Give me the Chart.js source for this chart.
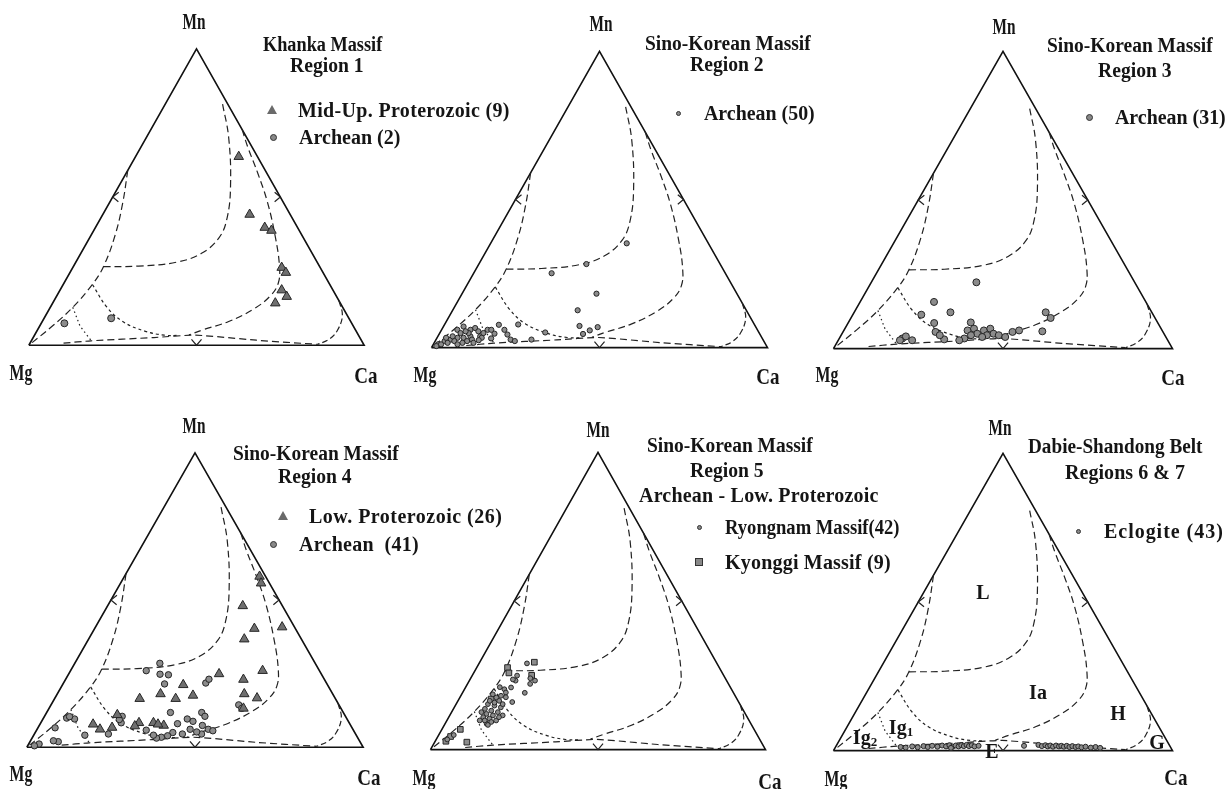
<!DOCTYPE html>
<html>
<head>
<meta charset="utf-8">
<script src="https://cdn.jsdelivr.net/npm/chart.js@4/dist/chart.umd.min.js"></script>
<style>
  html, body { margin: 0; padding: 0; background: #fff; }
  #page { position: relative; width: 1225px; height: 789px; overflow: hidden; background: #fff; }
  canvas { position: absolute; }
  .t { position: absolute; font-family: 'Liberation Serif', 'DejaVu Serif', serif; font-size: 20px;
       font-weight: bold; line-height: 1; white-space: pre; color: #151515; z-index: 2; }
  .t.v { font-size: 24px; }
  .t sub { font-size: 13px; vertical-align: -2px; }
  .mk { position: absolute; box-sizing: border-box; z-index: 2; }
</style>
</head>
<body>
<div id="page"></div>
<script>
// ternary points are [Ca %, Mn %]; Mg is the rest

// field boundaries (same on every diagram)
const bndLeft  = [[0, 59], [4, 48], [7.2, 37], [9, 26.5], [8.7, 20.5], [6.7, 12.8], [3.7, 6.3], [0, 0]];
const bndL     = [[9, 26.5], [19.4, 26.7], [30, 28], [36, 31], [38.6, 36.3], [37.7, 42.8], [33.3, 53.7], [24.6, 70], [17, 81.5]];
const bndRight = [[27.2, 72.8], [31.9, 66.8], [39.2, 58.1], [47, 48.3], [55.4, 36.3], [61.5, 26.5], [63.9, 21],
                  [63.7, 16.7], [61, 12.3], [55.6, 8], [49.3, 5.2], [46, 3.5]];
const bndIg1   = [[8.7, 20.5], [16.8, 12.9], [24, 8], [32.4, 4.7], [38.7, 3.4], [43, 3.3]];
const bndIg2   = [[6.7, 12.8], [12, 6.5], [18, 1.4]];
const bndBase  = [[10, 0.7], [17.8, 1.5], [36, 2.6], [48, 3.4], [67, 1.7], [86, 0.3]];
const bndG     = [[85, 15], [88.5, 10], [89.5, 5], [88.5, 2], [86, 0.3]];
const edgeMarks = [[[1, 51.6], [0, 50], [2.5, 48.4]], [[47.5, 51.6], [50, 50], [49.1, 48.4]], [[47.5, 2], [50, 0], [50.5, 2]]];

// samples
const r1MidUpProt = [[30.8, 63.6], [43.8, 44.1], [50.5, 39.7], [53, 38.7], [62.3, 26.2], [64.4, 24.5], [66.1, 18.6], [68.7, 16.4], [66.4, 14.2]];
const r1Archean = [[6.9, 7.4], [20, 9.1]];

const r2Archean = [[40.5, 35.2], [32, 28.2], [23.2, 25.1], [40, 18.2], [37.2, 12.6], [40.4, 7.3], [44.2, 5.8], [46, 6.9],
  [42.8, 4.6], [31.3, 5.1], [28.4, 2.7], [21.9, 7.8], [16.2, 7.7], [16.4, 4.7], [16.2, 3.1], [13.7, 6], [18.7, 6],
  [20.4, 4.4], [22.2, 2.7], [23.7, 2.2], [4.7, 6], [6, 7.1], [8.6, 6], [9.7, 6.6], [12.6, 3.8], [4.4, 2.7], [2.8, 2.2],
  [1.4, 1.1], [7.9, 3.3], [9.7, 3.8], [6.1, 3.3], [10.7, 2.7], [13, 4.9], [11.2, 5.5], [6.2, 4.9], [4, 1.6], [2.3, 1.1],
  [5.7, 2.2], [9.5, 2.2], [11.7, 1.6], [4.4, 3.8], [8.6, 4.9], [13.3, 3.3], [8.4, 1.6], [1.2, 0.5], [12.8, 2.5],
  [7.2, 1.1], [14.8, 6], [2.7, 3.3], [7.4, 5.5]];

const r3Archean = [[31, 22.3], [21.8, 15.7], [28.4, 12.2], [20.2, 11.4], [25.4, 8.6], [27.3, 5.6], [31.1, 3.1], [29.1, 4.5],
  [18.6, 3.4], [19.3, 4.1], [21.8, 2.8], [18.2, 2.8], [36.1, 8.8], [36.5, 6.1], [38.1, 6.7], [39.9, 5], [38.3, 4.5],
  [36.9, 3.4], [41.3, 6.1], [42.9, 6.7], [44.7, 5], [46.5, 4.5], [43, 4.5], [41.9, 3.9], [50, 5.6], [51.7, 6.1],
  [58.7, 5.8], [56.5, 12.2], [58.9, 10.3], [35.7, 2.8], [48.7, 3.9]];

const r4LowProt = [[40.2, 58], [41.8, 55.7], [40.2, 48], [47.5, 40.3], [55.5, 40.8], [46.3, 36.7], [44.7, 24.9], [57.1, 26],
  [52.9, 23], [35.9, 21.2], [30.7, 18.1], [36, 16.5], [40.6, 17.6], [25.3, 16.5], [55.6, 18.1], [60.1, 16.7], [57.8, 13.2],
  [21.4, 11], [15.8, 7.8], [18.7, 6.1], [22, 6.7], [29.2, 8.3], [33.5, 8.3], [37, 7.4], [28.5, 7.2], [35.1, 7.8]];
const r4Archean = [[25.3, 28.5], [22.5, 26], [27.2, 24.8], [29.8, 24.6], [30.2, 21.5], [42.3, 21.8], [42.6, 23.1], [55.8, 14.4],
  [57.3, 13.2], [36.8, 11.8], [46.1, 11.8], [47.7, 10.5], [42.9, 9.6], [45, 8.8], [40.8, 8], [48.5, 7.4], [50.9, 6.1],
  [49.7, 4.5], [45.5, 6.1], [44, 4.5], [40.9, 5], [39.9, 3.9], [38.3, 3.4], [37, 3.1], [32.6, 5.8], [22, 4.5], [15.2, 4.1],
  [5.1, 6.6], [8.4, 1.9], [6.8, 2.2], [6.9, 9.9], [9.4, 9.6], [7.5, 10.4], [3.1, 1.1], [2, 0.5], [23.1, 10.5], [23.9, 8.3],
  [22.8, 9.4], [52.5, 5.6], [47.9, 5.2], [35.6, 4.1]];

const r5Ryongnam = [[14.3, 29], [13.4, 24.9], [13.8, 23.2], [19.6, 23.2], [18.7, 22.1], [18.6, 19.1], [16.4, 16], [10.2, 21],
  [11.9, 20.3], [12.9, 19.2], [9.3, 18.6], [10.9, 17.5], [12.3, 16.4], [9.5, 15.3], [11.7, 14.8], [13.9, 14.2], [9.4, 13.7],
  [11.6, 13.1], [13.8, 12.6], [10.7, 12], [12.9, 11.5], [15.8, 11.5], [10.3, 10.9], [12.4, 10.4], [14.7, 9.8], [12.4, 8.7],
  [11.3, 9.8], [13, 8.3], [11.2, 15.8], [9.5, 16.4], [13.9, 15.3], [15, 10.9], [13.5, 9.3], [8.9, 12.6], [12, 18.1],
  [17.8, 24], [12.8, 23.6], [4.5, 4.9], [3.3, 3.4], [9.8, 9.8], [13.7, 17.6], [13.6, 20.9]];
const r5Kyonggi = [[16.3, 29.4], [9.2, 27.6], [10.5, 25.8], [17.7, 25], [9.6, 17], [5.5, 6.8], [3.8, 4.4], [3.2, 2.8], [9.6, 2.5]];

const r6Eclogite = [[19.2, 1.2], [20.8, 1], [22.5, 1.4], [24.3, 1.1], [25.8, 1.5], [27.2, 1.2], [28.3, 1.6], [30, 1.3],
  [31.2, 1.7], [32.5, 1.4], [33.3, 1.8], [34.5, 1.3], [35.2, 1.7], [36.2, 1.4], [36.8, 1.8], [37.7, 1.5], [38.3, 1.9],
  [39.2, 1.5], [39.9, 1.8], [40.9, 1.4], [42, 1.6], [34.2, 0.9], [55.4, 1.6], [59.5, 1.9], [60.7, 1.5], [61.6, 1.8],
  [62.5, 1.4], [63.1, 1.7], [64.1, 1.3], [64.8, 1.7], [65.8, 1.4], [66.4, 1.6], [67.3, 1.3], [68, 1.6], [69, 1.2],
  [69.7, 1.5], [70.8, 1.2], [71.5, 1.4], [72.6, 1.1], [73.7, 1.3], [75.4, 1], [76.7, 1.2], [78.2, 0.9]];

const vertexNames = ['Mn', 'Mg', 'Ca'];
const titles = [
  ['Khanka Massif', 'Region 1'],
  ['Sino-Korean Massif', 'Region 2'],
  ['Sino-Korean Massif', 'Region 3'],
  ['Sino-Korean Massif', 'Region 4'],
  ['Sino-Korean Massif', 'Region 5', 'Archean - Low. Proterozoic'],
  ['Dabie-Shandong Belt', 'Regions 6 & 7']
];
const fieldNames = ['L', 'Ia', 'H', 'G', 'Ig<sub>2</sub>', 'Ig<sub>1</sub>', 'E'];

// layout (page pixels)
const panelBox = [
  {left: 23, base: 351, w: 347, h: 308},
  {left: 427, base: 352, w: 345, h: 305},
  {left: 829, base: 353, w: 348, h: 306},
  {left: 21, base: 753, w: 348, h: 306},
  {left: 426, base: 754, w: 344, h: 306},
  {left: 829, base: 755, w: 348, h: 306}
];
const vertexPos = [
  [[194, 21], [21, 372], [366, 375]],
  [[601, 23], [425, 374], [768, 376]],
  [[1004, 26], [827, 374], [1173, 377]],
  [[194, 425], [21, 773], [369, 777]],
  [[598, 429], [424, 777], [770, 781]],
  [[1000, 427], [836, 778], [1176, 777]]
];
const titlePos = [
  [[263, 44], [290, 65]],
  [[645, 43], [690, 64]],
  [[1047, 45], [1098, 70]],
  [[233, 453], [278, 476]],
  [[647, 445], [690, 470], [639, 495]],
  [[1028, 446], [1065, 472]]
];
const fieldPos = [[983, 592], [1038, 692], [1118, 713], [1157, 742], [865, 737], [901, 727], [992, 751]];

// series shown on each diagram, with their legend entries
const panelSeries = [
  [{name: 'Mid-Up. Proterozoic (9)', data: r1MidUpProt, style: 'triangle', r: 5.5, at: [272, 110]},
   {name: 'Archean (2)', data: r1Archean, style: 'circle', r: 3.5, at: [273, 137]}],
  [{name: 'Archean (50)', data: r2Archean, style: 'circle', r: 2.6, at: [678, 113]}],
  [{name: 'Archean (31)', data: r3Archean, style: 'circle', r: 3.5, at: [1089, 117]}],
  [{name: 'Low. Proterozoic (26)', data: r4LowProt, style: 'triangle', r: 5.5, at: [283, 516]},
   {name: 'Archean  (41)', data: r4Archean, style: 'circle', r: 3.2, at: [273, 544]}],
  [{name: 'Ryongnam Massif(42)', data: r5Ryongnam, style: 'circle', r: 2.4, at: [699, 527]},
   {name: 'Kyonggi Massif (9)', data: r5Kyonggi, style: 'rect', r: 4, at: [699, 562]}],
  [{name: 'Eclogite (43)', data: r6Eclogite, style: 'circle', r: 2.5, at: [1078, 531]}]
];

var page = document.getElementById('page');

function toXY(p) {
  return {x: (p[0] + p[1] / 2) / 100, y: p[1] / 100};
}

// serif lettering brought to the fixed pitch of the original:
// widened with letter spacing, narrowed with a horizontal squeeze
function addText(html, x, cy, kind) {
  var d = document.createElement('div');
  d.className = 't' + (kind === 'v' ? ' v' : '');
  d.innerHTML = html;
  var fs = kind === 'v' ? 24 : 20;
  d.style.left = x + 'px';
  d.style.top = (cy - fs * 0.5) + 'px';
  page.appendChild(d);
  var sx = 1;
  if (kind !== 'c') {
    var n = d.textContent.length;
    var target = n * (kind === 'v' ? 11.5 : 9.2);
    var w = d.offsetWidth;
    if (w < target) {
      d.style.letterSpacing = ((target - w) / n).toFixed(2) + 'px';
    } else {
      sx = target / w;
    }
  }
  if (kind === 'v' || kind === 'c') {
    d.style.transformOrigin = '50% 50%';
    d.style.transform = 'translateX(-50%) scaleX(' + sx.toFixed(3) + ')';
  } else {
    d.style.transformOrigin = '0 50%';
    d.style.transform = 'scaleX(' + sx.toFixed(3) + ')';
  }
}

function addMarker(style, x, y) {
  var m = document.createElement('div');
  m.className = 'mk';
  if (style === 'triangle') {
    m.style.cssText += 'width:0;height:0;border-left:5px solid transparent;border-right:5px solid transparent;border-bottom:9px solid #6a6a6a;';
    m.style.left = (x - 5) + 'px';
    m.style.top = (y - 5) + 'px';
  } else {
    var s = style === 'rect' ? 8 : (style === 'dot' ? 5 : 7);
    m.style.cssText += 'width:' + s + 'px;height:' + s + 'px;background:#888;border:1px solid #333;' +
      (style === 'rect' ? '' : 'border-radius:50%;');
    m.style.left = (x - s / 2) + 'px';
    m.style.top = (y - s / 2) + 'px';
  }
  page.appendChild(m);
}

function curve(pts, dash, tension) {
  return {
    data: pts.map(toXY), showLine: true, borderColor: '#222', borderWidth: 1.2, borderDash: dash,
    pointRadius: 0, tension: tension, fill: false, clip: false
  };
}

panelBox.forEach(function (box, i) {
  var pad = 20;
  var cv = document.createElement('canvas');
  cv.width = box.w + 2 * pad;
  cv.height = box.h + 2 * pad;
  cv.style.width = cv.width + 'px';
  cv.style.height = cv.height + 'px';
  cv.style.left = (box.left - pad) + 'px';
  cv.style.top = (box.base - box.h - pad) + 'px';
  page.appendChild(cv);

  var datasets = [];
  panelSeries[i].forEach(function (s) {
    datasets.push({
      data: s.data.map(toXY), showLine: false, pointStyle: s.style, pointRadius: s.r,
      pointBackgroundColor: s.style === 'triangle' ? '#6f6f6f' : '#8c8c8c',
      pointBorderColor: '#262626', pointBorderWidth: 1, clip: false
    });
  });
  datasets.push(curve(bndLeft, [7, 4], 0.4));
  datasets.push(curve(bndL, [7, 4], 0.4));
  datasets.push(curve(bndRight, [7, 4], 0.4));
  datasets.push(curve(bndIg1, [3, 3], 0.4));
  datasets.push(curve(bndIg2, [1.5, 3], 0));
  datasets.push(curve(bndBase, [7, 4], 0.2));
  datasets.push(curve(bndG, [6, 3], 0.4));
  edgeMarks.forEach(function (m) { datasets.push(curve(m, [], 0)); });
  var outline = curve([[0, 0], [100, 0], [0, 100], [0, 0]], [], 0);
  outline.borderWidth = 1.6;
  outline.borderColor = '#111';
  datasets.push(outline);

  new Chart(cv.getContext('2d'), {
    type: 'scatter',
    data: {datasets: datasets},
    options: {
      responsive: false,
      animation: false,
      events: [],
      layout: {padding: 0},
      plugins: {legend: {display: false}, tooltip: {enabled: false}},
      scales: {
        x: {type: 'linear', display: false, min: -pad / box.w, max: 1 + pad / box.w},
        y: {type: 'linear', display: false, min: -pad / box.h, max: 1 + pad / box.h}
      }
    }
  });

  vertexNames.forEach(function (v, k) {
    addText(v, vertexPos[i][k][0], vertexPos[i][k][1], 'v');
  });
  titles[i].forEach(function (t, k) {
    addText(t, titlePos[i][k][0], titlePos[i][k][1]);
  });
  panelSeries[i].forEach(function (s) {
    var style = s.r < 3 && s.style === 'circle' ? 'dot' : s.style;
    addMarker(style, s.at[0], s.at[1]);
    addText(s.name, s.at[0] + 26, s.at[1]);
  });
});

fieldNames.forEach(function (f, k) {
  addText(f, fieldPos[k][0], fieldPos[k][1], 'c');
});
</script>
</body>
</html>
